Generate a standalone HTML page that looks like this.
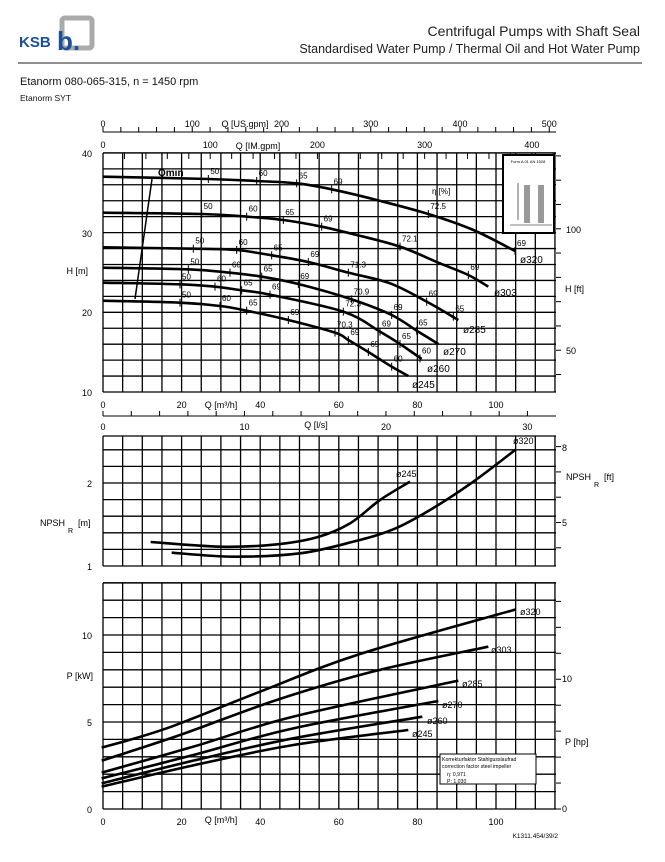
<!DOCTYPE html>
<html><head><meta charset="utf-8"><style>
body{margin:0;background:#fff;width:665px;height:857px;overflow:hidden}
svg{font-family:"Liberation Sans",Arial,sans-serif}
</style></head><body>
<svg id="s" width="665" height="857" viewBox="0 0 665 857" xmlns="http://www.w3.org/2000/svg">
<rect width="665" height="857" fill="#fff"/>
<text x="19" y="47" font-size="15" font-weight="bold" fill="#1a4f9c">KSB</text>
<rect x="62" y="18" width="30" height="30" rx="3" fill="none" stroke="#aaa" stroke-width="5"/>
<text x="57" y="50" font-size="26" font-weight="bold" fill="#1a4f9c">b.</text>
<text x="640" y="36" font-size="14" text-anchor="end" fill="#222">Centrifugal Pumps with Shaft Seal</text>
<text x="640" y="53" font-size="12.5" text-anchor="end" fill="#222">Standardised Water Pump / Thermal Oil and Hot Water Pump</text>
<line x1="18" y1="63" x2="642" y2="63" stroke="#222" stroke-width="1"/>
<text x="20" y="85" font-size="11" fill="#111">Etanorm 080-065-315, n = 1450 rpm</text>
<text x="20" y="101" font-size="8.5" fill="#111">Etanorm SYT</text>
<g id="g" font-size="9" fill="#000"></g>
</svg>
<script>
const g=document.getElementById('g');let h='';
const X=q=>103+3.93*q, XR=556;
function L(x1,y1,x2,y2,w){h+=`<line x1="${x1}" y1="${y1}" x2="${x2}" y2="${y2}" stroke="#000" stroke-width="${w||1}"/>`}
function T(x,y,s,a,sz){h+=`<text x="${x}" y="${y}" text-anchor="${a||'middle'}" ${sz?`font-size="${sz}"`:''}>${s}</text>`}
function grid(y0,y1,dy){for(let q=0;X(q)<=XR+1;q+=5)L(X(q),y0,X(q),y1,1.3);for(let y=y1;y>=y0-1;y-=dy)L(103,y,XR,y,1.3);L(103,y0,XR,y0,1.3);}
function curve(pts,ox,oy,w){let p=pts.map(a=>[ox+a[0]/3,oy+a[1]/3]);let d=`M${p[0][0]},${p[0][1]}`;
for(let i=0;i<p.length-1;i++){let p0=p[i-1]||p[i],p1=p[i],p2=p[i+1],p3=p[i+2]||p2;
d+=` C${p1[0]+(p2[0]-p0[0])/6},${p1[1]+(p2[1]-p0[1])/6} ${p2[0]-(p3[0]-p1[0])/6},${p2[1]-(p3[1]-p1[1])/6} ${p2[0]},${p2[1]}`}
h+=`<path d="${d}" fill="none" stroke="#000" stroke-width="${w||2.6}"/>`}
L(103,132,XR,132);for(let g2=0;g2<=500;g2+=20){L(X(g2*0.2271),132,X(g2*0.2271),127)}
[0,100,200,300,400,500].forEach(v=>T(X(v*0.2271),127,v));T(245,127,'Q [US.gpm]');
[0,100,200,300,400].forEach(v=>T(X(v*0.2728),148,v));T(258,149,'Q [IM.gpm]');
grid(153,392,15.94);
for(let g2=0;g2*0.2728<=115;g2+=20)L(X(g2*0.2728),153,X(g2*0.2728),159);
[[40,153],[30,233],[20,312],[10,392]].forEach(a=>T(92,a[1]+4,a[0],'end'));
T(88,274,'H [m]','end');
for(let ft=40;ft<=130;ft+=10){let y=392-7.97*(ft*0.3048-10);if(y>=153&&y<=392)L(XR,y,XR+5,y)}
T(566,233,'100','start');T(566,354,'50','start');T(565,292,'H [ft]','start');
[0,20,40,60,80,100].forEach(v=>T(X(v),408,v));T(221,408,'Q [m³/h]');
L(103,416,XR,416);for(let l=0;l*3.6<=115;l+=2)L(X(l*3.6),416,X(l*3.6),411);
[0,10,20,30].forEach(v=>T(X(v*3.6),430,v));T(316,428,'Q [l/s]');
h+=`<rect x="503" y="155" width="51" height="78" fill="#fff" stroke="#000" stroke-width="2"/>`;
T(528,163,'Form A 01 AN 1528','middle',4);
h+=`<rect x="524" y="185" width="6" height="38" fill="#999"/><rect x="538" y="185" width="6" height="38" fill="#999"/>`;
L(518,183,518,220,0.6);L(510,225,552,225,0.6);
const oy=140,ox=90;
curve([[38,110],[355,117],[500,123],[620,130],[725,148],[860,180],[1015,222],[1150,270],[1275,333]],ox,oy);
curve([[38,218],[335,222],[470,230],[580,240],[695,260],[800,285],[930,320],[1050,370],[1135,405],[1195,440]],ox,oy);
curve([[38,322],[310,326],[440,330],[545,346],[655,366],[775,398],[900,430],[1010,485],[1105,540]],ox,oy);
curve([[38,383],[295,388],[420,398],[515,410],[625,432],[785,478],[905,525],[980,572],[1045,612]],ox,oy);
curve([[38,428],[270,433],[375,440],[455,451],[540,464],[760,515],[870,575],[930,612],[995,657]],ox,oy);
curve([[38,482],[270,488],[390,498],[470,512],[595,540],[735,578],[775,600],[835,636],[905,680],[955,708]],ox,oy);
L(152,179,135,299,1.5);h+=`<text x="158" y="176" font-size="10" font-weight="bold">Qmin</text>`;
const ef=[[355,117,'50'],[500,123,'60'],[620,130,'65'],[725,148,'69'],[1015,222,'72.5'],[1275,333,'69'],
[335,222,'50'],[470,230,'60'],[580,240,'65'],[695,260,'69'],[930,320,'72.1'],[1135,405,'69'],
[310,326,'50'],[440,330,'60'],[545,346,'65'],[655,366,'69'],[775,398,'71.3'],[1010,485,'69'],[1090,530,'65'],
[295,388,'50'],[420,398,'60'],[515,410,'65'],[625,432,'69'],[785,478,'70.9'],[905,525,'69'],[980,572,'65'],
[270,433,'50'],[375,440,'60'],[455,451,'65'],[540,464,'69'],[760,515,'72.3'],[870,575,'69'],[930,612,'65'],[990,655,'60'],
[270,488,'50'],[390,498,'60'],[470,512,'65'],[595,540,'69'],[735,578,'70.3'],[775,600,'69'],[835,636,'65'],[905,680,'60']];
ef.forEach(e=>{let x=ox+e[0]/3,y=oy+e[1]/3;L(x,y-4,x,y+4,1);T(x+2,y-5,e[2],'start',8)});
T(432,194,'η [%]','start',8);
[['ø320',520,263],['ø303',494,296],['ø285',463,333],['ø270',443,355],['ø260',427,372],['ø245',412,388]].forEach(a=>T(a[1],a[2],a[0],'start',10));
grid(436,566,16.6);
T(92,487,'2','end');T(92,570,'1','end');
h+=`<text x="40" y="526" font-size="9">NPSH</text><text x="68" y="533" font-size="7">R</text><text x="78" y="526" font-size="9">[m]</text>`;
for(let ft=4;ft<=8;ft++){let y=566-83*(ft*0.3048-1);L(XR,y,XR+5,y)}
T(562,451,'8','start');T(562,526,'5','start');
h+=`<text x="566" y="480" font-size="9">NPSH</text><text x="594" y="487" font-size="7">R</text><text x="604" y="480" font-size="9">[ft]</text>`;
curve([[272,426],[480,440],[640,434],[770,412],[870,370],[960,300],[1050,245]],60,400);
curve([[335,458],[520,470],[720,460],[880,425],[1000,388],[1110,330],[1240,245],[1368,148]],60,400);
T(396,477,'ø245','start',9);T(513,444,'ø320','start',9);
grid(583,809,17.4);
T(92,813,'0','end');T(92,726,'5','end');T(92,639,'10','end');T(93,679,'P [kW]','end');
for(let hp=0;hp<=16;hp+=2){let y=809-17.4*hp*0.7457;if(y>=583)L(XR,y,XR+5,y)}
T(562,812,'0','start');T(562,682,'10','start');T(565,745,'P [hp]','start');
const po=[[[125,1043],[320,985],[600,875],[900,762],[1368,628]],
[[125,1082],[360,1005],[650,900],[950,812],[1285,740]],
[[125,1118],[400,1040],[700,950],[1195,842]],
[[125,1135],[400,1065],[700,985],[1135,903]],
[[125,1150],[400,1082],[700,1015],[1087,950]],
[[125,1160],[400,1096],[700,1035],[1045,990]]];
po.forEach(p=>curve(p,60,400));
[['ø320',520,615],['ø303',491,653],['ø285',462,687],['ø270',442,708],['ø260',427,724],['ø245',412,737]].forEach(a=>T(a[1],a[2],a[0],'start',9));
h+=`<rect x="440" y="754" width="96" height="30" fill="#fff" stroke="#000" stroke-width="1"/>`;
T(442,761,'Korrekturfaktor Stahlgusslaufrad','start',5.2);T(442,768,'correction factor steel impeller','start',5.2);
T(447,776,'η:  0,971','start',5.2);T(447,783,'P:  1,030','start',5.2);
[0,20,40,60,80,100].forEach(v=>T(X(v),825,v));T(221,823,'Q [m³/h]');
T(558,838,'K1311.454/39/2','end',6.5);
g.innerHTML=h;
</script>
</body></html>
